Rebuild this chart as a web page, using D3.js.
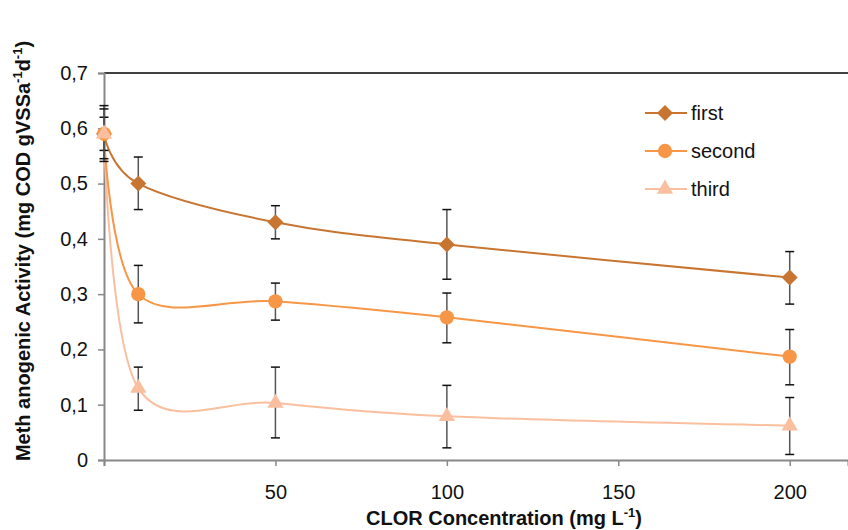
<!DOCTYPE html>
<html>
<head>
<meta charset="utf-8">
<script src="https://cdn.jsdelivr.net/npm/d3@7"></script>
<style>
  body { margin: 0; background: #fff; }
  svg { font-family: "Liberation Sans", Arial, sans-serif; }
</style>
</head>
<body>
<div id="chart"></div>
<script>
// Data
const concentrations = [0, 10, 50, 100, 200]
const firstValues = [0.59, 0.50, 0.43, 0.39, 0.33]
const secondValues = [0.59, 0.30, 0.287, 0.258, 0.187]
const thirdValues = [0.59, 0.13, 0.103, 0.079, 0.062]
// error bar ends [low, high]
const firstErrors = [[0.54, 0.641], [0.453, 0.548], [0.40, 0.46], [0.327, 0.453], [0.282, 0.377]]
const secondErrors = [[0.56, 0.62], [0.248, 0.352], [0.253, 0.32], [0.212, 0.302], [0.136, 0.236]]
const thirdErrors = [[0.545, 0.635], [0.09, 0.168], [0.04, 0.168], [0.022, 0.135], [0.01, 0.113]]
const seriesNames = ["first", "second", "third"]
const yTicks = [0, 0.1, 0.2, 0.3, 0.4, 0.5, 0.6, 0.7]
const xTicks = [50, 100, 150, 200]

const width = 848
const height = 530
const margin = { top: 73, right: 0, bottom: 70, left: 104 }

const colors = { first: "#c87532", second: "#f79646", third: "#f9bf9f" }

// diamond = square turned 45 degrees
const diamond = {
  draw(context, size) {
    const r = Math.sqrt(size / 2)
    context.moveTo(0, -r)
    context.lineTo(r, 0)
    context.lineTo(0, r)
    context.lineTo(-r, 0)
    context.closePath()
  }
}

const series = [
  { name: seriesNames[0], values: firstValues, errors: firstErrors, shape: diamond, size: 128 },
  { name: seriesNames[1], values: secondValues, errors: secondErrors, shape: d3.symbolCircle, size: 160 },
  { name: seriesNames[2], values: thirdValues, errors: thirdErrors, shape: d3.symbolTriangle, size: 115 }
]

const svg = d3.select("#chart")
  .append("svg")
  .attr("width", width)
  .attr("height", height)

const x = d3.scaleLinear()
  .domain([0, 217])
  .range([margin.left, width - margin.right])

const y = d3.scaleLinear()
  .domain([0, 0.7])
  .range([height - margin.bottom, margin.top])

// Top border
svg.append("line")
  .attr("x1", x(0)).attr("x2", width)
  .attr("y1", y(0.7)).attr("y2", y(0.7))
  .style("stroke", "#000")
  .style("stroke-width", 1.5)

// Y axis
const yAxis = svg.append("g")
  .attr("transform", `translate(${x(0)},0)`)
  .call(d3.axisLeft(y).tickValues(yTicks).tickSize(6).tickPadding(10)
    .tickFormat(d => d === 0 ? "0" : d3.format(".1f")(d).replace(".", ",")))
yAxis.select(".domain").style("stroke", "#888").style("stroke-width", 2)
yAxis.selectAll("line").style("stroke", "#888").style("stroke-width", 1.5)
yAxis.selectAll("text").style("font-size", "20px").style("fill", "#111")

// X axis
const xAxis = svg.append("g")
  .attr("transform", `translate(0,${y(0)})`)
  .call(d3.axisBottom(x).tickValues([0, ...xTicks]).tickSize(6).tickPadding(19)
    .tickFormat(d => d === 0 ? "" : d))
xAxis.select(".domain").style("stroke", "#888").style("stroke-width", 2)
xAxis.selectAll("line").style("stroke", "#888").style("stroke-width", 1.5)
xAxis.selectAll("text").style("font-size", "20px").style("fill", "#111")

// Axis titles
const yTitle = svg.append("text")
  .attr("transform", `translate(30,251) rotate(-90)`)
  .attr("text-anchor", "middle")
  .style("font-size", "20px")
  .style("font-weight", "bold")
  .style("fill", "#111")
yTitle.append("tspan").text("Meth anogenic Activity (mg COD gVSSa")
yTitle.append("tspan").attr("dy", -8).style("font-size", "13px").text("-1")
yTitle.append("tspan").attr("dy", 8).text("d")
yTitle.append("tspan").attr("dy", -8).style("font-size", "13px").text("-1")
yTitle.append("tspan").attr("dy", 8).text(")")

const xTitle = svg.append("text")
  .attr("x", 504)
  .attr("y", 525)
  .attr("text-anchor", "middle")
  .style("font-size", "20px")
  .style("font-weight", "bold")
  .style("fill", "#111")
xTitle.append("tspan").text("CLOR Concentration (mg L")
xTitle.append("tspan").attr("dy", -8).style("font-size", "13px").text("-1")
xTitle.append("tspan").attr("dy", 8).text(")")

// Smoothed lines
const line = d3.line()
  .x(d => x(d[0]))
  .y(d => y(d[1]))
  .curve(d3.curveCatmullRom.alpha(0))

// Draw lines in reverse so first is on top
series.slice().reverse().forEach(s => {
  svg.append("path")
    .datum(concentrations.map((c, i) => [c, s.values[i]]))
    .attr("d", line)
    .style("fill", "none")
    .style("stroke", colors[s.name])
    .style("stroke-width", 2)
})

// Error bars
series.forEach(s => {
  const g = svg.append("g").attr("class", `errors-${s.name}`)
  concentrations.forEach((c, i) => {
    const [lo, hi] = s.errors[i]
    g.append("line")
      .attr("x1", x(c)).attr("x2", x(c))
      .attr("y1", y(lo)).attr("y2", y(hi))
      .style("stroke", "#555").style("stroke-width", 1.5)
    ;[lo, hi].forEach(v => {
      g.append("line")
        .attr("x1", x(c) - 4.5).attr("x2", x(c) + 4.5)
        .attr("y1", y(v)).attr("y2", y(v))
        .style("stroke", "#111").style("stroke-width", 1.5)
    })
  })
})

// Markers
series.forEach(s => {
  svg.append("g")
    .selectAll("path")
    .data(concentrations.map((c, i) => [c, s.values[i]]))
    .enter()
    .append("path")
    .attr("transform", d => `translate(${x(d[0])},${y(d[1])})`)
    .attr("d", d3.symbol().type(s.shape).size(s.size))
    .style("fill", colors[s.name])
})

// Legend
const legend = svg.append("g").attr("transform", "translate(645,113)")
series.forEach((s, i) => {
  const row = legend.append("g").attr("transform", `translate(0,${i * 38})`)
  row.append("line")
    .attr("x1", 0).attr("x2", 42)
    .style("stroke", colors[s.name]).style("stroke-width", 2)
  row.append("path")
    .attr("transform", "translate(20,0)")
    .attr("d", d3.symbol().type(s.shape).size(s.size))
    .style("fill", colors[s.name])
  row.append("text")
    .attr("x", 46)
    .attr("y", 0)
    .attr("dy", "0.35em")
    .style("font-size", "20px")
    .style("fill", "#111")
    .text(s.name)
})
</script>
</body>
</html>
